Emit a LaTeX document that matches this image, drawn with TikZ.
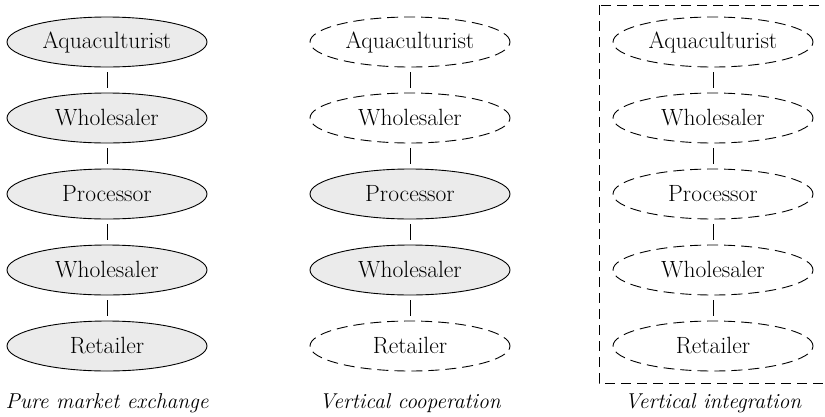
\documentclass[tikz,border=0pt]{standalone}
\usetikzlibrary{shapes.geometric}
\begin{document}
\begin{tikzpicture}[x=1pt,y=-1pt,
  actor/.style={ellipse,draw,line width=0.9pt,minimum width=200pt,minimum height=50pt,inner sep=0pt,font=\fontsize{23.5}{27}\selectfont},
  solidactor/.style={actor,fill=black!8},
  dashactor/.style={actor,dash pattern=on 11pt off 6pt},
  link/.style={draw,line width=0.9pt,shorten <=5pt,shorten >=5pt},
  caption/.style={font=\fontsize{21.5}{25}\selectfont\itshape,inner sep=0pt}]
\useasboundingbox (0,0) rectangle (825,416);
\clip (0,0) rectangle (825,416);
% column 1
\node[solidactor] (a1) at (107,42) {Aquaculturist};
\node[solidactor] (b1) at (107,118) {Wholesaler};
\node[solidactor] (c1) at (107,194) {Processor};
\node[solidactor] (d1) at (107,270) {Wholesaler};
\node[solidactor] (e1) at (107,346) {Retailer};
% column 2
\node[dashactor] (a2) at (410,42) {Aquaculturist};
\node[dashactor] (b2) at (410,118) {Wholesaler};
\node[solidactor] (c2) at (410,194) {Processor};
\node[solidactor] (d2) at (410,270) {Wholesaler};
\node[dashactor] (e2) at (410,346) {Retailer};
% column 3
\node[dashactor] (a3) at (713,42) {Aquaculturist};
\node[dashactor] (b3) at (713,118) {Wholesaler};
\node[dashactor] (c3) at (713,194) {Processor};
\node[dashactor] (d3) at (713,270) {Wholesaler};
\node[dashactor] (e3) at (713,346) {Retailer};
\foreach \c in {1,2,3}{
  \draw[link] (a\c) -- (b\c);
  \draw[link] (b\c) -- (c\c);
  \draw[link] (c\c) -- (d\c);
  \draw[link] (d\c) -- (e\c);
}
\draw[line width=0.9pt,dash pattern=on 10pt off 6pt] (599,5) rectangle (835,383);
\node[caption] (l1) at (107,403) {Pure market exchange};
\node[caption] (l2) at (410,403) {Vertical cooperation};
\node[caption] (l3) at (713,403) {Vertical integration};
\end{tikzpicture}
\end{document}
